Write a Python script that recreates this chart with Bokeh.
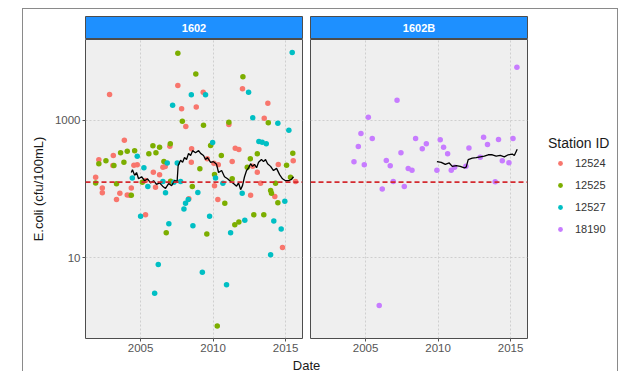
from bokeh.plotting import figure
from bokeh.models import Range1d, FixedTicker, Span, Label, Legend, LegendItem, ColumnDataSource
from bokeh.layouts import row, column
from bokeh.embed import file_html
from bokeh.resources import INLINE

FONT = "Liberation Sans"

# ---------------- data ----------------
STATIONS = ["12524", "12525", "12527", "18190"]
COLORS = ["#F8766D", "#7CAE00", "#00BFC4", "#C77CFF"]
PANELS = ["1602", "1602B"]
XTICKS = [2005, 2010, 2015]
XTICK_LABELS = ["2005", "2010", "2015"]
YTICKS = [10, 1000]
YTICK_LABELS = ["10", "1000"]
STANDARD = 126

s12524_year = [2001.90, 2002.12, 2002.36, 2002.36, 2002.86, 2003.09, 2003.12, 2003.34, 2003.57, 2003.88,
               2004.08, 2004.26, 2004.36, 2004.54, 2004.77, 2005.34, 2005.34, 2005.88, 2006.03, 2006.31,
               2006.54, 2006.70, 2007.02, 2007.57, 2007.83, 2008.12, 2008.33, 2008.50, 2008.52, 2008.84,
               2009.32, 2009.60, 2010.06, 2010.10, 2010.33, 2010.36, 2011.09, 2011.32, 2011.53, 2011.78,
               2012.03, 2012.59, 2012.74, 2013.05, 2013.28, 2013.53, 2013.78, 2014.26, 2014.50, 2014.79,
               2015.53, 2015.69]
s12524_val = [149, 267, 103, 88, 2400, 220, 308, 70, 87, 516,
              82, 81, 103, 222, 226, 133, 42, 176, 106, 161,
              208, 213, 421, 3240, 1480, 817, 72, 245, 386, 1580,
              2580, 276, 238, 112, 70, 226, 874, 252, 395, 377,
              2900, 81, 215, 176, 121, 1080, 1790, 78, 228, 14,
              258, 129]

s12525_year = [2001.90, 2002.12, 2002.61, 2003.16, 2003.34, 2003.62, 2003.85, 2004.08, 2004.36, 2004.59,
               2005.12, 2005.57, 2005.85, 2006.06, 2006.31, 2006.61, 2006.77, 2007.05, 2007.07, 2007.57,
               2007.88, 2008.57, 2008.81, 2009.09, 2009.34, 2009.57, 2009.83, 2010.10, 2010.29, 2010.57,
               2010.81, 2011.09, 2011.32, 2011.50, 2011.78, 2012.06, 2012.36, 2012.57, 2012.81, 2013.05,
               2013.50, 2013.81, 2013.97, 2014.03, 2014.31, 2014.47, 2015.07, 2015.34, 2015.50]
s12525_val = [122, 233, 258, 220, 119, 338, 246, 356, 81, 361,
              125, 326, 427, 338, 408, 252, 23, 457, 130, 9550,
              977, 109, 4760, 197, 854, 22, 432, 163, 1.0, 308,
              62, 944, 141, 30, 33, 4350, 208, 276, 42, 327,
              42, 925, 95, 87, 121, 63, 222, 149, 333]

s12527_year = [2004.43, 2004.77, 2005.00, 2005.23, 2005.50, 2005.97, 2006.22, 2006.54, 2006.72, 2006.84,
               2006.95, 2007.21, 2007.30, 2007.53, 2007.76, 2007.99, 2008.10, 2008.29, 2008.50, 2008.61,
               2008.95, 2009.26, 2009.48, 2009.76, 2009.97, 2010.17, 2010.68, 2010.93, 2011.21, 2012.01,
               2012.19, 2012.45, 2012.74, 2013.16, 2013.39, 2013.67, 2013.97, 2014.19, 2014.47, 2014.70,
               2014.95, 2015.23, 2015.46]
s12527_val = [145, 301, 40, 205, 109, 3.0, 7.9, 129, 88, 239,
              31, 1670, 125, 239, 129, 51, 62, 70, 2370, 29,
              89, 6.1, 2370, 40, 477, 145, 121, 4.0, 23, 87,
              35, 2590, 1095, 494, 482, 457, 11, 34, 913, 26,
              66, 722, 9800]

s18190_year = [2004.20, 2004.50, 2004.68, 2004.91, 2005.19, 2005.46, 2005.94, 2006.15, 2006.43, 2006.70,
               2006.91, 2007.17, 2007.44, 2007.67, 2007.94, 2008.20, 2008.45, 2008.91, 2009.19, 2009.92,
               2010.15, 2010.38, 2010.66, 2010.91, 2011.14, 2011.92, 2012.13, 2012.91, 2013.14, 2013.41,
               2013.94, 2014.17, 2014.43, 2014.89, 2015.17, 2015.44]
s18190_val = [249, 417, 646, 226, 1120, 546, 2.0, 100, 261, 218,
              129, 1980, 337, 109, 199, 188, 546, 386, 457, 188,
              523, 408, 326, 188, 208, 215, 398, 291, 571, 446,
              128, 528, 258, 241, 546, 6000]

# running geometric mean lines
gm1602_year = [2004.36, 2004.44, 2004.59, 2004.72, 2004.86, 2005.07, 2005.28, 2005.48, 2005.69, 2005.90,
               2006.10, 2006.31, 2006.52, 2006.72, 2006.93, 2007.14, 2007.34, 2007.52, 2007.59, 2007.76,
               2007.90, 2008.03, 2008.17, 2008.31, 2008.45, 2008.59, 2008.79, 2009.00, 2009.14, 2009.34,
               2009.48, 2009.62, 2009.83, 2010.03, 2010.24, 2010.38, 2010.59, 2010.79, 2011.00, 2011.21,
               2011.41, 2011.62, 2011.76, 2011.90, 2012.03, 2012.17, 2012.31, 2012.45, 2012.59, 2012.72,
               2012.86, 2013.00, 2013.14, 2013.34, 2013.48, 2013.62, 2013.76, 2013.97, 2014.17, 2014.38,
               2014.59, 2014.79, 2015.00, 2015.21, 2015.41, 2015.55]
gm1602_val = [174, 191, 158, 174, 141, 151, 132, 141, 123, 132,
              117, 123, 110, 102, 120, 112, 132, 129, 219, 263,
              245, 288, 269, 331, 309, 363, 339, 363, 331, 309,
              269, 288, 245, 251, 229, 174, 186, 151, 141, 129,
              120, 110, 123, 98, 112, 151, 186, 204, 234, 214,
              229, 204, 245, 269, 251, 269, 234, 214, 186, 200,
              162, 141, 132, 132, 138, 151]

gm1602B_year = [2009.92, 2010.22, 2010.50, 2010.77, 2010.98, 2011.26, 2011.53, 2011.81, 2011.94, 2012.08,
                2012.36, 2012.63, 2012.91, 2013.19, 2013.46, 2013.74, 2014.01, 2014.29, 2014.57, 2014.84,
                2015.12, 2015.26, 2015.46]
gm1602B_val = [251, 245, 229, 240, 214, 219, 214, 204, 209, 269,
               282, 288, 295, 302, 316, 316, 302, 309, 295, 316,
               324, 309, 380]

X_RANGE = (2001.2, 2016.17)
Y_RANGE = (0.657, 15220)

# ---------------- styling helpers ----------------
STRIP_BLUE = "#1e90ff"
PANEL_BG = "#efefef"
FRAME_LINE = "#4d4d4d"
GRID = "#cfcfcf"
TICK_TEXT = "#555555"
TITLE_TEXT = "#1a1a1a"

FRAME_W = 217
PANEL_H = 318
STRIP_H = 30
DATE_H = 14


def make_strip(left, right, text):
    s = figure(width=left + FRAME_W + right, height=STRIP_H,
               x_range=Range1d(0, 1), y_range=Range1d(0, 1),
               min_border_left=left, min_border_right=right,
               min_border_top=7, min_border_bottom=0,
               x_axis_location=None, y_axis_location=None,
               output_backend="svg", toolbar_location=None)
    s.background_fill_color = STRIP_BLUE
    s.border_fill_color = "white"
    s.outline_line_color = FRAME_LINE
    s.grid.visible = False
    s.add_layout(Label(x=0.5, y=0.5, text=text, text_align="center", text_baseline="middle",
                       text_color="white", text_font=FONT, text_font_style="bold",
                       text_font_size="11px"))
    return s


def make_panel(left, right, show_y):
    p = figure(width=left + FRAME_W + right, height=PANEL_H,
               x_range=Range1d(*X_RANGE), y_range=Range1d(*Y_RANGE), y_axis_type="log",
               min_border_left=left, min_border_right=right,
               min_border_top=0, min_border_bottom=PANEL_H - 299,
               output_backend="svg", toolbar_location=None)
    p.background_fill_color = PANEL_BG
    p.border_fill_color = "white"
    p.outline_line_color = FRAME_LINE
    p.outline_line_width = 1

    p.xaxis.ticker = FixedTicker(ticks=XTICKS)
    p.xaxis.major_label_overrides = dict(zip(XTICKS, XTICK_LABELS))
    p.xaxis.axis_line_color = None
    p.xaxis.major_tick_line_color = TICK_TEXT
    p.xaxis.major_tick_out = 3
    p.xaxis.major_tick_in = 0
    p.xaxis.minor_tick_line_color = None
    p.xaxis.major_label_standoff = 2
    p.xaxis.major_label_text_font = FONT
    p.xaxis.major_label_text_font_size = "11.5px"
    p.xaxis.major_label_text_color = TICK_TEXT

    p.yaxis.ticker = FixedTicker(ticks=YTICKS)
    p.yaxis.major_label_overrides = dict(zip(YTICKS, YTICK_LABELS))
    p.yaxis.axis_line_color = None
    p.yaxis.major_tick_line_color = TICK_TEXT
    p.yaxis.major_tick_out = 3
    p.yaxis.major_tick_in = 0
    p.yaxis.minor_tick_line_color = None
    p.yaxis.major_label_standoff = 2
    p.yaxis.major_label_text_font = FONT
    p.yaxis.major_label_text_font_size = "11.5px"
    p.yaxis.major_label_text_color = TICK_TEXT
    if show_y:
        p.yaxis.axis_label = "E.coli (cfu/100mL)"
        p.yaxis.axis_label_text_font = FONT
        p.yaxis.axis_label_text_font_size = "13px"
        p.yaxis.axis_label_text_font_style = "normal"
        p.yaxis.axis_label_text_color = TITLE_TEXT
        p.yaxis.axis_label_standoff = 6
    else:
        p.yaxis.visible = False

    p.xgrid.ticker = FixedTicker(ticks=XTICKS)
    p.ygrid.ticker = FixedTicker(ticks=YTICKS)
    for g in (p.xgrid, p.ygrid):
        g.grid_line_color = GRID
        g.grid_line_dash = "2 2"
        g.grid_line_width = 1
        g.minor_grid_line_color = None
    return p


# ---------------- panels ----------------
LEFT_A = 62
stripA = make_strip(LEFT_A, 4, PANELS[0])
pA = make_panel(LEFT_A, 4, True)
stripB = make_strip(4, 4, PANELS[1])
pB = make_panel(4, 4, False)

sources = [ColumnDataSource(dict(year=s12524_year, val=s12524_val)),
           ColumnDataSource(dict(year=s12525_year, val=s12525_val)),
           ColumnDataSource(dict(year=s12527_year, val=s12527_val)),
           ColumnDataSource(dict(year=s18190_year, val=s18190_val))]

for src, c in zip(sources[:3], COLORS[:3]):
    pA.scatter("year", "val", source=src, size=5.5, fill_color=c, line_color=None)
pA.line(gm1602_year, gm1602_val, line_color="black", line_width=1.3)

pB.scatter("year", "val", source=sources[3], size=5.5, fill_color=COLORS[3], line_color=None)
pB.line(gm1602B_year, gm1602B_val, line_color="black", line_width=1.3)

for p in (pA, pB):
    p.add_layout(Span(location=STANDARD, dimension="width", line_color="#d42a2f",
                      line_dash="5 3", line_width=1.6))

# ---------------- legend (own figure; its frame excludes the data) ----------------
LEG_W = 86
lg = figure(width=LEG_W, height=STRIP_H + PANEL_H,
            x_range=Range1d(0, 1), y_range=Range1d(0, 1),
            min_border_left=17, min_border_top=126, min_border_right=0, min_border_bottom=0,
            x_axis_location=None, y_axis_location=None,
            output_backend="svg", toolbar_location=None)
lg.outline_line_color = None
lg.grid.visible = False
lg.background_fill_color = "white"
lg.border_fill_color = "white"
items = []
for st, c, src in zip(STATIONS, COLORS, sources):
    r = lg.scatter("year", "val", source=src, size=5, fill_color=c, line_color=None)
    items.append(LegendItem(label=st, renderers=[r]))
legend = Legend(items=items, location="top_left", title="Station ID",
                title_text_font=FONT, title_text_font_size="14px", title_text_color=TITLE_TEXT,
                title_text_font_style="normal", title_standoff=4,
                label_text_font=FONT, label_text_font_size="11px", label_text_color="#333333",
                glyph_width=24, glyph_height=12, label_height=16, label_standoff=3,
                spacing=6, padding=0, margin=0,
                border_line_color=None, background_fill_alpha=0)
lg.add_layout(legend)

# ---------------- x title ----------------
DATE_W = (LEFT_A + FRAME_W + 4) + (4 + FRAME_W + 4)
date_fig = figure(width=DATE_W, height=DATE_H, x_range=Range1d(0, 1), y_range=Range1d(0, 1),
                  min_border=0, x_axis_location=None, y_axis_location=None,
                  output_backend="svg", toolbar_location=None)
date_fig.outline_line_color = None
date_fig.grid.visible = False
date_fig.add_layout(Label(x=283, y=DATE_H, x_units="screen", y_units="screen", text="Date",
                          text_align="center", text_baseline="top",
                          text_font=FONT, text_font_size="13px", text_color=TITLE_TEXT))

layout = column(
    row(column(stripA, pA), column(stripB, pB), lg),
    row(date_fig),
    margin=(8, 0, 0, 22),
    styles={"border-top": "1px solid #8a8a8a", "border-left": "1px solid #8a8a8a",
            "border-right": "1px solid #8a8a8a"},
)

open("out.html", "w").write(file_html(layout, INLINE))
